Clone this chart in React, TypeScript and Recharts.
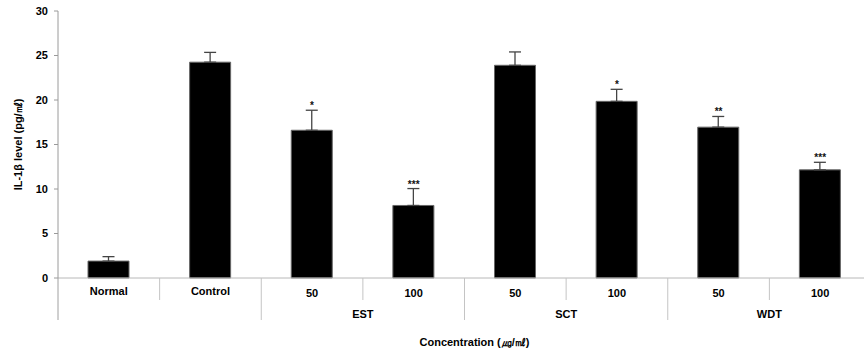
import React from "react";
import {
  Bar,
  ComposedChart,
  ErrorBar,
  Scatter,
  XAxis,
  YAxis,
} from "recharts";

// values
const categories = ["Normal", "Control", "50", "100", "50", "100", "50", "100"];
const groups = ["", "", "EST", "EST", "SCT", "SCT", "WDT", "WDT"];
const means = [1.9, 24.25, 16.6, 8.15, 23.9, 19.85, 16.95, 12.15];
const sds = [0.5, 1.1, 2.25, 1.9, 1.5, 1.35, 1.2, 0.85];
const stars = ["", "", "*", "***", "", "*", "**", "***"];
const yTicks = [0, 5, 10, 15, 20, 25, 30];

const FONT = "'Liberation Sans', Arial, Helvetica, sans-serif";
const CHART_W = 880;
const CHART_H = 351;
const MARGIN = { top: 11, right: 9, bottom: 0, left: 28 };
const Y_AXIS_W = 30;
const BAND = (CHART_W - MARGIN.left - MARGIN.right - Y_AXIS_W) / categories.length;

const data = categories.map((name, i) => ({
  key: `${groups[i]}-${name}-${i}`,
  name,
  group: groups[i],
  value: means[i],
  err: [0, sds[i]],
  star: stars[i],
  starY: means[i] + sds[i],
}));

// short separator inside a group, long one between groups
function XTick(props: any) {
  const { x, y, index } = props;
  const d = data[index];
  if (!d) return null;
  const left = x - BAND / 2;
  const newGroup = index === 0 || groups[index - 1] !== d.group || d.group === "";
  const sepLen = index === 0 || (newGroup && d.group !== "") ? 42 : 22;
  const isLast = index === data.length - 1;
  return (
    <g>
      {index > 0 && (
        <line x1={left} y1={y} x2={left} y2={y + sepLen} stroke="#c4c4c4" />
      )}
      {index === 0 && (
        <line x1={left} y1={y} x2={left} y2={y + sepLen} stroke="#a0a0a0" />
      )}
      {isLast && (
        <line x1={x + BAND / 2} y1={y} x2={x + BAND / 2} y2={y + 42} stroke="#c4c4c4" />
      )}
      <text
        x={x}
        y={y + (d.group ? 19 : 17)}
        textAnchor="middle"
        fontFamily={FONT}
        fontWeight="bold"
        fontSize={11}
        fill="#000"
      >
        {d.name}
      </text>
      {d.group && groups[index - 1] !== d.group && (
        <text
          x={x + BAND / 2}
          y={y + 40}
          textAnchor="middle"
          fontFamily={FONT}
          fontWeight="bold"
          fontSize={11}
          fill="#000"
        >
          {d.group}
        </text>
      )}
    </g>
  );
}

function StarShape(props: any) {
  const { cx, cy, payload } = props;
  if (!payload || !payload.star) return null;
  return (
    <text
      x={cx}
      y={cy - 1}
      textAnchor="middle"
      fontFamily={FONT}
      fontWeight="bold"
      fontSize={10}
      fill="#111"
    >
      {payload.star}
    </text>
  );
}

function YLabel(props: any) {
  const { viewBox } = props;
  const cx = viewBox.x - 10;
  const cy = viewBox.y + viewBox.height / 2;
  return (
    <text
      x={cx}
      y={cy}
      transform={`rotate(-90, ${cx}, ${cy})`}
      textAnchor="middle"
      dominantBaseline="central"
      fontFamily={FONT}
      fontWeight="bold"
      fontSize={11}
      fill="#000"
    >
      IL-1β level (pg/㎖)
    </text>
  );
}

export default function App() {
  return (
    <div
      style={{
        position: "absolute",
        left: 0,
        top: 0,
        width: 864,
        height: 351,
        overflow: "hidden",
        background: "#fff",
      }}
    >
      <ComposedChart width={CHART_W} height={CHART_H} data={data} margin={MARGIN}>
        <XAxis
          dataKey="key"
          type="category"
          height={CHART_H - MARGIN.top - MARGIN.bottom - 267}
          interval={0}
          tickSize={0}
          tickMargin={0}
          tickLine={false}
          axisLine={{ stroke: "#b8b8b8" }}
          tick={<XTick />}
          label={{
            value: "Concentration (㎍/㎖)",
            position: "insideBottom",
            offset: 5,
            dx: 10,
            fontFamily: FONT,
            fontWeight: "bold",
            fontSize: 11,
            fill: "#000",
          }}
        />
        <YAxis
          width={Y_AXIS_W}
          domain={[0, 30]}
          ticks={yTicks}
          interval={0}
          tickSize={4}
          tickMargin={6}
          axisLine={{ stroke: "#9a9a9a" }}
          tickLine={{ stroke: "#9a9a9a" }}
          tick={{ fontFamily: FONT, fontWeight: "bold", fontSize: 11, fill: "#000" }}
          label={<YLabel />}
        />
        <Bar
          dataKey="value"
          fill="#000"
          stroke="#666"
          strokeWidth={1}
          barSize={41}
          isAnimationActive={false}
        >
          <ErrorBar
            dataKey="err"
            direction="y"
            width={6}
            stroke="#444"
            strokeWidth={1.3}
            isAnimationActive={false}
          />
        </Bar>
        <Scatter dataKey="starY" shape={<StarShape />} isAnimationActive={false} />
      </ComposedChart>
    </div>
  );
}
